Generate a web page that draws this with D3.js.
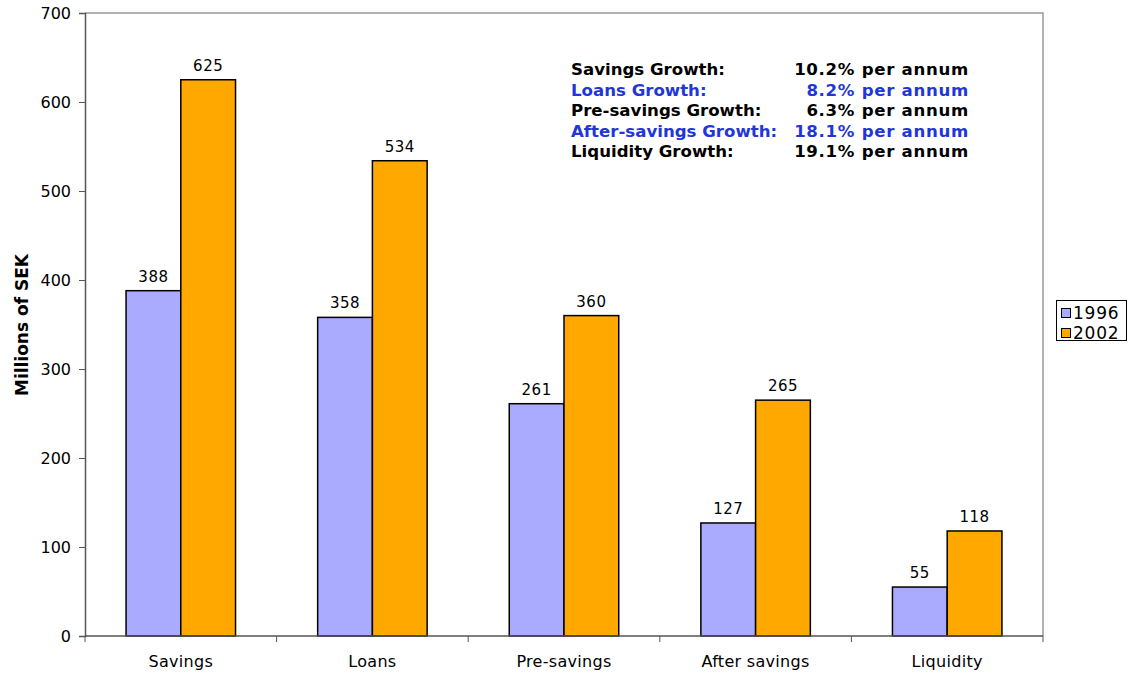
<!DOCTYPE html>
<html><head><meta charset="utf-8">
<script src="https://cdn.jsdelivr.net/npm/d3@7"></script>
<style>
body{margin:0;background:#fff;}
text{font-family:"DejaVu Sans",Verdana,sans-serif;}
</style></head>
<body><svg id="chart" width="1133" height="673"></svg>
<script>
const categories = ["Savings","Loans","Pre-savings","After savings","Liquidity"];
const seriesNames = ["1996","2002"];
const values1996 = [388,358,261,127,55];
const values2002 = [625,534,360,265,118];
const yTicks = [0,100,200,300,400,500,600,700];
const growthLabels = ["Savings Growth:","Loans Growth:","Pre-savings Growth:","After-savings Growth:","Liquidity Growth:"];
const growthValues = ["10.2% per annum","8.2% per annum","6.3% per annum","18.1% per annum","19.1% per annum"];

const colors = {"1996":"#aaaaff","2002":"#ffa800"};
const svg = d3.select("#chart");
const L=85, R=1043, T=13, B=636;

const x = d3.scaleBand().domain(categories).range([L,R]).paddingInner(1.5/3.5).paddingOuter(0.75/3.5);
const xs = d3.scaleBand().domain(seriesNames).range([0,x.bandwidth()]);
const y = d3.scaleLinear().domain([0,700]).range([B,T]);

// plot border (top/right gray)
svg.append("path").attr("d",`M${L},${T}H${R}V${B}`).attr("fill","none").attr("stroke","#9a9a9a").attr("stroke-width",1.5);

const data = categories.map((c,i)=>({cat:c, vals:[{s:"1996",v:values1996[i]},{s:"2002",v:values2002[i]}]}));

const g = svg.append("g").selectAll("g").data(data).join("g").attr("transform",d=>`translate(${x(d.cat)},0)`);
g.selectAll("rect").data(d=>d.vals).join("rect")
 .attr("x",d=>xs(d.s)).attr("width",xs.bandwidth())
 .attr("y",d=>y(d.v)).attr("height",d=>y(0)-y(d.v))
 .attr("fill",d=>colors[d.s]).attr("stroke","#000").attr("stroke-width",1.5);
g.selectAll("text").data(d=>d.vals).join("text")
 .attr("x",d=>xs(d.s)+xs.bandwidth()/2).attr("y",d=>y(d.v)-9)
 .attr("text-anchor","middle").attr("font-size",15).attr("letter-spacing",0.5).attr("fill","#000").text(d=>d.v);

// y axis
const yAxis = d3.axisLeft(y).tickValues(yTicks).tickSize(6).tickPadding(8);
const ya = svg.append("g").attr("transform",`translate(${L},0)`).call(yAxis);
ya.select(".domain").attr("stroke","#555").attr("stroke-width",1.5);
ya.selectAll(".tick line").attr("stroke","#555");
ya.selectAll(".tick text").attr("font-size",16).attr("font-family","DejaVu Sans").attr("fill","#000");

// x axis
const xa = svg.append("g").attr("transform",`translate(0,${B})`);
xa.append("line").attr("x1",L).attr("x2",R).attr("stroke","#555").attr("stroke-width",1.5);
const step = x.step();
const bounds = d3.range(categories.length+1).map(i=>L+i*step);
xa.selectAll(".b").data(bounds).join("line").attr("class","b")
 .attr("x1",d=>d).attr("x2",d=>d).attr("y1",0).attr("y2",6).attr("stroke","#555");
xa.selectAll(".cl").data(categories).join("text").attr("class","cl")
 .attr("x",d=>x(d)+x.bandwidth()/2).attr("y",31).attr("text-anchor","middle")
 .attr("font-size",16).attr("letter-spacing",0.3).text(d=>d);

// y title
svg.append("text").attr("transform","translate(28,325) rotate(-90)").attr("text-anchor","middle")
 .attr("font-size",17).attr("font-weight","bold").text("Millions of SEK");

// annotation
const ann = svg.append("g");
growthLabels.forEach((t,i)=>{
  const col = i%2===1 ? "#1f36d8" : "#000";
  ann.append("text").attr("x",571).attr("y",75+i*20.6).attr("font-size",16.6).attr("font-weight","bold").attr("fill",col).text(t);
  ann.append("text").attr("x",969).attr("y",75+i*20.6).attr("text-anchor","end").attr("font-size",16.6).attr("letter-spacing",0.7).attr("font-weight","bold").attr("fill",col).text(growthValues[i]);
});

// legend
const lg = svg.append("g");
lg.append("rect").attr("x",1056.5).attr("y",300.5).attr("width",70).attr("height",40).attr("fill","#fff").attr("stroke","#000");
seriesNames.forEach((s,i)=>{
  lg.append("rect").attr("x",1061.5).attr("y",308.5+i*20).attr("width",9).attr("height",9).attr("fill",colors[s]).attr("stroke","#000");
  lg.append("text").attr("x",1073).attr("y",319+i*20).attr("font-size",17).attr("letter-spacing",0.8).text(s);
});
</script></body></html>
